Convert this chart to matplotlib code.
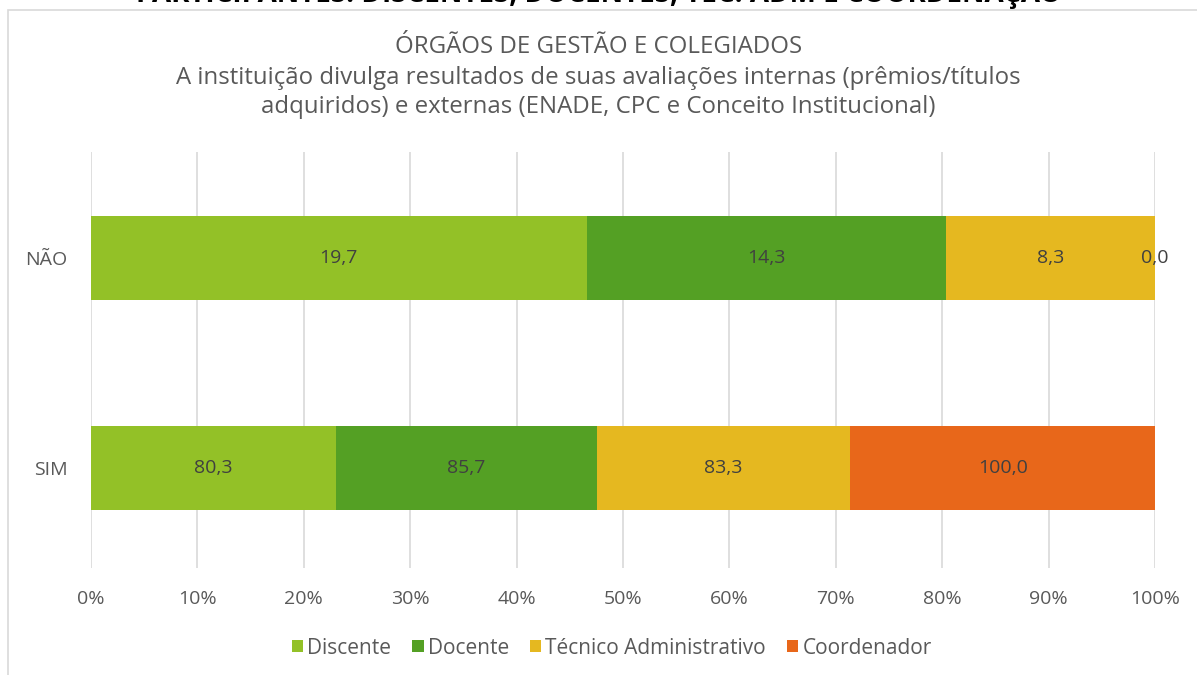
import matplotlib
matplotlib.use('Agg')
from matplotlib import pyplot as plt
from matplotlib.patches import Rectangle

categories = ['SIM', 'NÃO']
series_names = ['Discente', 'Docente', 'Técnico Administrativo', 'Coordenador']
series_values = {
    'Discente': [80.3, 19.7],
    'Docente': [85.7, 14.3],
    'Técnico Administrativo': [83.3, 8.3],
    'Coordenador': [100.0, 0.0],
}
colors = ['#93c127', '#54a024', '#e5b820', '#e8671a']
x_ticks = [0, 10, 20, 30, 40, 50, 60, 70, 80, 90, 100]

plt.rcParams['font.family'] = ['Open Sans', 'DejaVu Sans']
TEXT = '#595959'


def main():
    fig = plt.figure(figsize=(11.97, 6.75), dpi=100)
    ax = fig.add_axes([91 / 1197, 107 / 675, 1064 / 1197, 416 / 675])

    # outer chart frame (partly cut off)
    fig.patches.append(Rectangle((8 / 1197, -0.1), 1.2, 1 - 10 / 675 + 0.1,
                                 transform=fig.transFigure, fill=False,
                                 edgecolor='#d9d9d9', linewidth=1.2))

    totals = [sum(series_values[s][i] for s in series_names) for i in range(len(categories))]
    left = [0.0] * len(categories)
    for name, color in zip(series_names, colors):
        vals = series_values[name]
        shares = [v / t * 100 for v, t in zip(vals, totals)]
        bars = ax.barh(range(len(categories)), shares, left=left, height=0.4,
                       color=color, label=name, zorder=3)
        for b, v in zip(bars, vals):
            ax.text(b.get_x() + b.get_width() / 2, b.get_y() + b.get_height() / 2,
                    f'{v:.1f}'.replace('.', ','), ha='center', va='center',
                    fontsize=14, color='#404040', zorder=4)
        left = [l + s for l, s in zip(left, shares)]

    ax.set_xlim(0, 100)
    ax.set_ylim(-0.476, 1.505)
    ax.set_xticks(x_ticks)
    ax.set_xticklabels([f'{t}%' for t in x_ticks])
    ax.set_yticks(range(len(categories)))
    ax.set_yticklabels(categories)
    ax.tick_params(axis='both', length=0, labelsize=14, labelcolor=TEXT)
    ax.tick_params(axis='x', pad=16)
    ax.tick_params(axis='y', pad=17)
    ax.grid(axis='x', color='#d9d9d9', linewidth=1.2, zorder=0)
    for sp in ax.spines.values():
        sp.set_visible(False)

    fig.text(0.5, 1 - 2 / 675, 'PARTICIPANTES: DISCENTES, DOCENTES, TEC. ADM E COORDENAÇÃO',
             ha='center', va='baseline', fontsize=20, fontweight='bold', color='black')
    fig.text(0.5, 1 - 47 / 675, 'ÓRGÃOS DE GESTÃO E COLEGIADOS', ha='center', va='center',
             fontsize=17.3, color=TEXT)
    fig.text(0.5, 1 - 78 / 675,
             'A instituição divulga resultados de suas avaliações internas (prêmios/títulos',
             ha='center', va='center', fontsize=17.3, color=TEXT)
    fig.text(0.5, 1 - 107 / 675,
             'adquiridos) e externas (ENADE, CPC e Conceito Institucional)',
             ha='center', va='center', fontsize=17.3, color=TEXT)

    fig.legend(loc='center', bbox_to_anchor=(0.511, 1 - 648 / 675), ncol=4, frameon=False,
               fontsize=15, labelcolor=TEXT, handlelength=0.55, handleheight=0.55,
               handletextpad=0.2, columnspacing=1.0)

    plt.savefig('out.png', dpi=100)


if __name__ == '__main__':
    main()
